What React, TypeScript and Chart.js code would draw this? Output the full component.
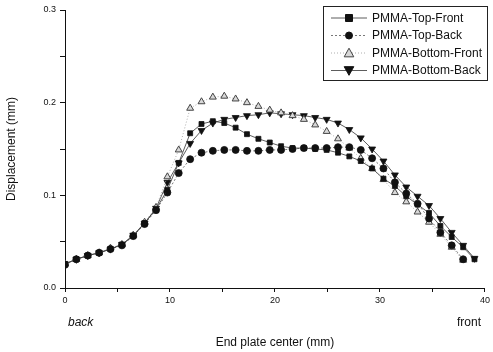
import React, { useEffect, useRef } from 'react';
import { Chart, registerables } from 'chart.js';
Chart.register(...registerables);

const positions = [0, 1.08, 2.17, 3.25, 4.33, 5.42, 6.5, 7.58, 8.67, 9.75, 10.83, 11.92, 13, 14.08, 15.17, 16.25, 17.33, 18.42, 19.5, 20.58, 21.67, 22.75, 23.83, 24.92, 26, 27.08, 28.17, 29.25, 30.33, 31.42, 32.5, 33.58, 34.67, 35.75, 36.83, 37.92, 39];

const topFront = [0.026, 0.031, 0.035, 0.038, 0.042, 0.047, 0.056, 0.070, 0.085, 0.106, 0.135, 0.167, 0.177, 0.180, 0.178, 0.173, 0.166, 0.161, 0.157, 0.153, 0.151, 0.151, 0.150, 0.149, 0.146, 0.142, 0.137, 0.129, 0.118, 0.110, 0.099, 0.090, 0.081, 0.067, 0.055, 0.044, 0.031];
const topBack = [0.025, 0.031, 0.035, 0.038, 0.042, 0.046, 0.056, 0.069, 0.084, 0.103, 0.124, 0.139, 0.146, 0.148, 0.149, 0.149, 0.148, 0.148, 0.149, 0.149, 0.150, 0.151, 0.151, 0.151, 0.152, 0.152, 0.149, 0.140, 0.129, 0.114, 0.102, 0.091, 0.075, 0.060, 0.046, 0.031, null];
const bottomFront = [0.026, 0.031, 0.035, 0.038, 0.043, 0.047, 0.057, 0.071, 0.087, 0.120, 0.149, 0.194, 0.201, 0.206, 0.207, 0.204, 0.200, 0.196, 0.192, 0.189, 0.186, 0.182, 0.176, 0.169, 0.161, 0.151, 0.140, 0.129, 0.117, 0.103, 0.093, 0.082, 0.071, 0.058, 0.044, 0.030, null];
const bottomBack = [0.026, 0.031, 0.035, 0.038, 0.042, 0.047, 0.057, 0.070, 0.086, 0.114, 0.135, 0.156, 0.170, 0.178, 0.182, 0.184, 0.186, 0.187, 0.189, 0.188, 0.187, 0.186, 0.184, 0.182, 0.178, 0.171, 0.162, 0.150, 0.137, 0.122, 0.109, 0.099, 0.089, 0.075, 0.060, 0.046, 0.032];

const seriesLabels = ['PMMA-Top-Front', 'PMMA-Top-Back', 'PMMA-Bottom-Front', 'PMMA-Bottom-Back'];
const xTitle = 'End plate center (mm)';
const yTitle = 'Displacement (mm)';
const leftNote = 'back';
const rightNote = 'front';

const FONT = "'Liberation Sans', Arial, sans-serif";

const toPoints = (ys: (number | null)[]) => positions.map((x, i) => ({ x, y: ys[i] }));

const legendPlugin = {
  id: 'boxLegend',
  afterDraw(chart: any) {
    const ctx = chart.ctx;
    ctx.save();
    const bx = 323, by = 6, bw = 164, bh = 74;
    ctx.strokeStyle = '#222';
    ctx.lineWidth = 1;
    ctx.strokeRect(bx + 0.5, by + 0.5, bw, bh);
    chart.data.datasets.forEach((ds: any, i: number) => {
      const y = by + 12 + i * 17.5;
      ctx.save();
      ctx.strokeStyle = ds.borderColor;
      ctx.lineWidth = ds.borderWidth;
      ctx.setLineDash(ds.borderDash || []);
      ctx.beginPath();
      ctx.moveTo(bx + 8, y);
      ctx.lineTo(bx + 44, y);
      ctx.stroke();
      ctx.restore();
      ctx.save();
      ctx.fillStyle = ds.pointBackgroundColor;
      ctx.strokeStyle = ds.pointBorderColor;
      ctx.lineWidth = 1;
      (Chart as any).helpers
        ? null
        : null;
      drawMarker(ctx, ds.pointStyle, ds.pointRotation || 0, bx + 26, y, ds.pointRadius);
      ctx.restore();
      ctx.fillStyle = '#111';
      ctx.font = `12px ${FONT}`;
      ctx.textBaseline = 'middle';
      ctx.textAlign = 'left';
      ctx.fillText(ds.label, bx + 49, y + 0.5);
    });
    // notes under x axis
    const xs = chart.scales.x;
    ctx.fillStyle = '#111';
    ctx.textBaseline = 'middle';
    ctx.font = `italic 12px ${FONT}`;
    ctx.textAlign = 'left';
    ctx.fillText(leftNote, xs.getPixelForValue(0) + 3, 323);
    ctx.font = `12px ${FONT}`;
    ctx.textAlign = 'right';
    ctx.fillText(rightNote, xs.getPixelForValue(40) - 4, 323);
    ctx.restore();
  },
};

function drawMarker(ctx: CanvasRenderingContext2D, style: string, rot: number, x: number, y: number, r: number) {
  ctx.beginPath();
  if (style === 'rect') {
    ctx.rect(x - r, y - r, 2 * r, 2 * r);
  } else if (style === 'circle') {
    ctx.arc(x, y, r, 0, Math.PI * 2);
  } else {
    const s = rot === 180 ? -1 : 1;
    const h = r * 1.2;
    ctx.moveTo(x, y - s * h);
    ctx.lineTo(x + h, y + s * h * 0.8);
    ctx.lineTo(x - h, y + s * h * 0.8);
    ctx.closePath();
  }
  ctx.fill();
  ctx.stroke();
}

export default function App() {
  const ref = useRef<HTMLCanvasElement>(null);
  useEffect(() => {
    if (!ref.current) return;
    const chart = new Chart(ref.current, {
      type: 'line',
      data: {
        datasets: [
          {
            label: seriesLabels[0],
            data: toPoints(topFront),
            borderColor: '#333',
            borderWidth: 0.8,
            pointStyle: 'rect',
            pointRadius: 3.5,
            pointBackgroundColor: '#111',
            pointBorderColor: '#111',
          },
          {
            label: seriesLabels[1],
            data: toPoints(topBack),
            borderColor: '#555',
            borderWidth: 0.8,
            borderDash: [2, 2],
            pointStyle: 'circle',
            pointRadius: 3.5,
            pointBackgroundColor: '#111',
            pointBorderColor: '#111',
          },
          {
            label: seriesLabels[2],
            data: toPoints(bottomFront),
            borderColor: '#999',
            borderWidth: 0.8,
            borderDash: [1, 2],
            pointStyle: 'triangle',
            pointRadius: 4,
            pointBackgroundColor: '#d8d8d8',
            pointBorderColor: '#444',
            pointBorderWidth: 1,
          },
          {
            label: seriesLabels[3],
            data: toPoints(bottomBack),
            borderColor: '#333',
            borderWidth: 0.8,
            pointStyle: 'triangle',
            pointRotation: 180,
            pointRadius: 4,
            pointBackgroundColor: '#111',
            pointBorderColor: '#111',
          },
        ] as any,
      },
      options: {
        animation: false,
        responsive: false,
        maintainAspectRatio: false,
        spanGaps: false,
        layout: { padding: { top: 10, right: 8, left: 0, bottom: 0 } },
        plugins: { legend: { display: false }, tooltip: { enabled: false } },
        scales: {
          x: {
            type: 'linear',
            min: 0,
            max: 40,
            ticks: {
              stepSize: 5,
              autoSkip: false,
              maxRotation: 0,
              padding: 3,
              color: '#111',
              font: { family: FONT, size: 9 },
              callback: (v: any) => (Number(v) % 10 === 0 ? String(v) : ''),
            },
            grid: { drawOnChartArea: false, color: '#111', tickLength: 4 },
            border: { color: '#111', width: 1 },
            title: {
              display: true,
              text: xTitle,
              color: '#111',
              font: { family: FONT, size: 12 },
              padding: { top: 0, bottom: 2 },
            },
            afterFit: (s: any) => { s.height = 64; },
          },
          y: {
            min: 0,
            max: 0.3,
            ticks: {
              stepSize: 0.05,
              autoSkip: false,
              padding: 4,
              color: '#111',
              font: { family: FONT, size: 9 },
              callback: (v: any) => {
                const n = Number(v) * 10;
                return Math.abs(n - Math.round(n)) < 1e-6 ? Number(v).toFixed(1) : '';
              },
            },
            grid: { drawOnChartArea: false, color: '#111', tickLength: 5 },
            border: { color: '#111', width: 1 },
            title: {
              display: true,
              text: yTitle,
              color: '#111',
              font: { family: FONT, size: 12 },
              padding: { top: 4, bottom: 0 },
            },
            afterFit: (s: any) => { s.width = 65; },
          },
        },
      } as any,
      plugins: [legendPlugin],
    });
    return () => chart.destroy();
  }, []);
  return (
    <div style={{ position: 'absolute', left: 0, top: 0, width: 493, height: 352, background: '#fff' }}>
      <canvas ref={ref} width={493} height={352} style={{ width: 493, height: 352 }} />
    </div>
  );
}
